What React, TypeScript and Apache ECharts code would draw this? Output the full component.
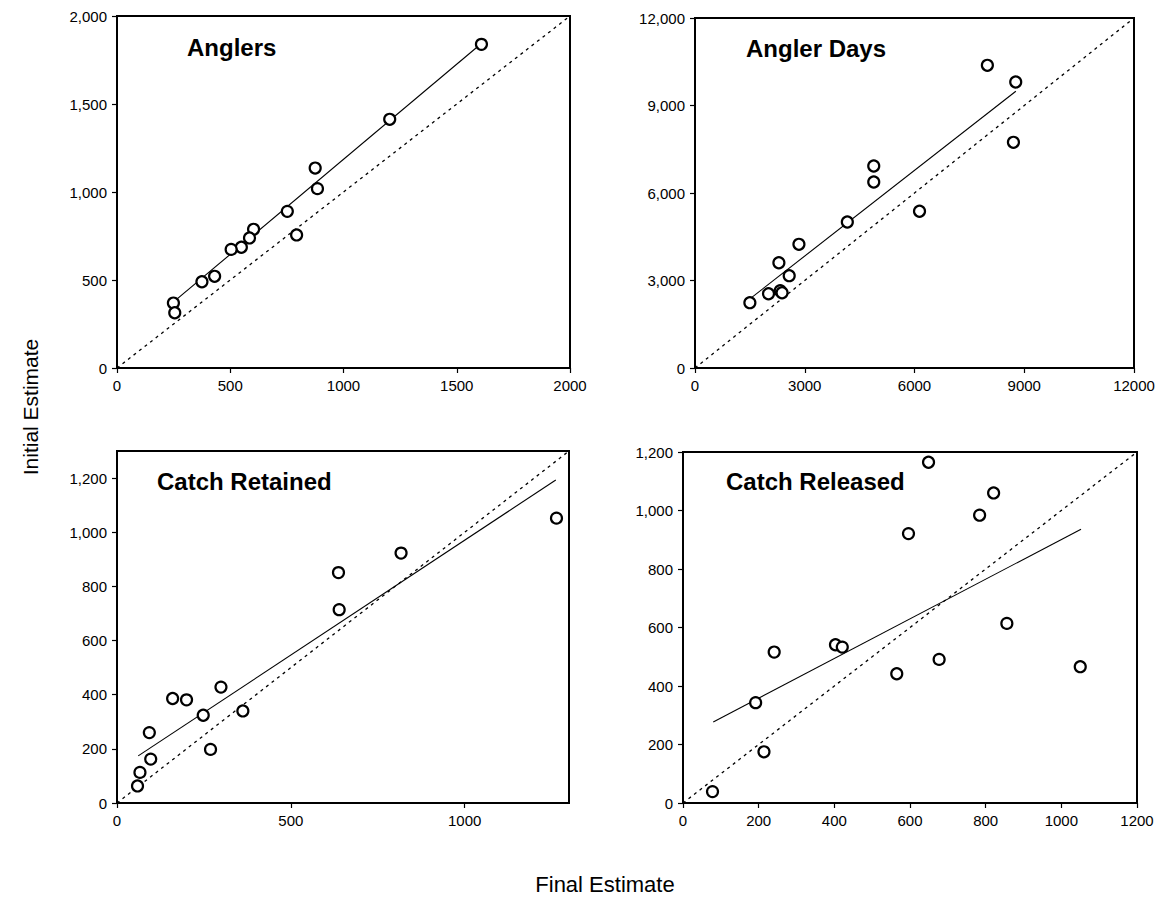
import React, { useEffect, useRef } from "react";
import * as echarts from "echarts";

const panelTitles = ["Anglers", "Angler Days", "Catch Retained", "Catch Released"];

const anglersX = [1609, 1204, 875, 885, 752, 793, 603, 585, 549, 504, 431, 375, 249, 255];
const anglersY = [1839, 1413, 1136, 1019, 890, 756, 788, 739, 686, 674, 521, 490, 369, 314];
const anglersFitX = [255, 1610];
const anglersFitY = [381, 1845];

const daysX = [7992, 8767, 8704, 4886, 4886, 6137, 4164, 2841, 2293, 2575, 2009, 2330, 2380, 1500];
const daysY = [10378, 9806, 7738, 6926, 6377, 5373, 5006, 4241, 3610, 3165, 2547, 2650, 2580, 2239];
const daysFitX = [1500, 8770];
const daysFitY = [2370, 9490];

const retainedX = [1264, 817, 637, 639, 299, 160, 200, 248, 362, 93, 269, 97, 66, 59];
const retainedY = [1052, 923, 851, 714, 428, 386, 381, 324, 340, 260, 198, 162, 113, 63];
const retainedFitX = [61, 1262];
const retainedFitY = [174, 1193];

const releasedX = [649, 821, 784, 596, 856, 403, 421, 241, 677, 565, 1050, 192, 214, 78];
const releasedY = [1165, 1060, 984, 921, 614, 541, 533, 516, 491, 442, 466, 343, 175, 39];
const releasedFitX = [80, 1052];
const releasedFitY = [277, 936];

const axisMax = [2000, 12000, 1300, 1200];
const xIntervals = [500, 3000, 500, 200];
const yIntervals = [500, 3000, 200, 200];

const xAxisTitle = "Final Estimate";
const yAxisTitle = "Initial Estimate";

const zip = (a: number[], b: number[]) => a.map((v, i) => [v, b[i]]);

export default function App() {
  const ref = useRef<HTMLDivElement>(null);
  useEffect(() => {
    if (!ref.current) return;
    const chart = echarts.init(ref.current, null, { renderer: "svg" });
    const grids = [
      { left: 117, top: 16, width: 453, height: 352 },
      { left: 695, top: 18, width: 439, height: 350 },
      { left: 117, top: 451, width: 452, height: 352 },
      { left: 683, top: 452, width: 454, height: 351 },
    ];
    const pts = [
      zip(anglersX, anglersY),
      zip(daysX, daysY),
      zip(retainedX, retainedY),
      zip(releasedX, releasedY),
    ];
    const fits = [
      zip(anglersFitX, anglersFitY),
      zip(daysFitX, daysFitY),
      zip(retainedFitX, retainedFitY),
      zip(releasedFitX, releasedFitY),
    ];
    const font = "Liberation Sans, Arial, sans-serif";
    const series: any[] = [];
    grids.forEach((_, i) => {
      series.push({
        type: "line",
        xAxisIndex: i,
        yAxisIndex: i,
        data: [
          [0, 0],
          [axisMax[i], axisMax[i]],
        ],
        symbol: "none",
        lineStyle: { color: "#000", width: 1.3, type: [3, 4] },
        z: 2,
      });
      series.push({
        type: "line",
        xAxisIndex: i,
        yAxisIndex: i,
        data: fits[i],
        symbol: "none",
        lineStyle: { color: "#000", width: 1.1 },
        z: 3,
      });
      series.push({
        type: "scatter",
        xAxisIndex: i,
        yAxisIndex: i,
        data: pts[i],
        symbol: "circle",
        symbolSize: 11,
        itemStyle: { color: "#fff", borderColor: "#000", borderWidth: 2.2, opacity: 1 },
        z: 4,
      });
    });
    const axisCommon = {
      type: "value",
      min: 0,
      splitLine: { show: false },
      axisLine: { show: true, onZero: false, lineStyle: { color: "#000", width: 2 } },
      axisTick: { show: true, inside: false, length: 5, lineStyle: { color: "#000", width: 1.2 } },
    };
    const titlePos = [
      { left: 187, top: 35 },
      { left: 746, top: 36 },
      { left: 157, top: 469 },
      { left: 726, top: 469 },
    ];
    chart.setOption({
      animation: false,
      backgroundColor: "#fff",
      title: panelTitles.map((t, i) => ({
        text: t,
        left: titlePos[i].left,
        top: titlePos[i].top,
        padding: 0,
        textStyle: { fontFamily: font, fontWeight: "bold", fontSize: 24, color: "#000" },
      })),
      grid: grids.map((g) => ({
        ...g,
        show: true,
        borderColor: "#000",
        borderWidth: 2,
        backgroundColor: "transparent",
      })),
      xAxis: grids.map((_, i) => ({
        ...axisCommon,
        gridIndex: i,
        max: axisMax[i],
        interval: xIntervals[i],
        axisLabel: {
          color: "#000",
          fontFamily: font,
          fontSize: 15,
          margin: 10,
          showMaxLabel: i !== 2,
          formatter: (v: number) => String(v),
        },
      })),
      yAxis: grids.map((_, i) => ({
        ...axisCommon,
        gridIndex: i,
        max: axisMax[i],
        interval: yIntervals[i],
        axisLabel: {
          color: "#000",
          fontFamily: font,
          fontSize: 15,
          margin: 10,
          showMaxLabel: i !== 2,
          formatter: (v: number) => v.toLocaleString("en-US"),
        },
      })),
      graphic: [
        {
          type: "text",
          x: 30,
          y: 407,
          rotation: Math.PI / 2,
          style: {
            text: yAxisTitle,
            fontFamily: font,
            fontSize: 21,
            fill: "#000",
            align: "center",
            verticalAlign: "middle",
          },
        },
        {
          type: "text",
          x: 605,
          y: 884,
          style: {
            text: xAxisTitle,
            fontFamily: font,
            fontSize: 22,
            fill: "#000",
            align: "center",
            verticalAlign: "middle",
          },
        },
      ],
      series,
    });
    return () => chart.dispose();
  }, []);
  return (
    <div
      ref={ref}
      style={{ position: "fixed", left: 0, top: 0, width: 1166, height: 901, background: "#fff" }}
    />
  );
}
